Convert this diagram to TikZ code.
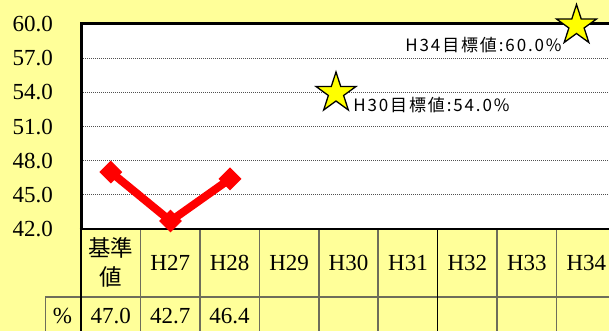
\documentclass[tikz,border=0pt]{standalone}
\usepackage{fontspec}
\setmainfont{Liberation Serif}
\newfontfamily\cjk{Noto Sans CJK JP}
\newfontfamily\cjkw{Noto Sans CJK JP}[LetterSpace=11]
\usetikzlibrary{shapes.geometric}
\definecolor{bgy}{HTML}{FFFF99}
\definecolor{tline}{HTML}{6E6E5A}
\definecolor{gridc}{HTML}{505050}
\definecolor{staryel}{HTML}{FFFF00}
\begin{document}
\begin{tikzpicture}[x=1pt,y=-1pt,
  axl/.style={font=\fontsize{23}{26}\selectfont, inner sep=0pt, anchor=east},
  cell/.style={font=\fontsize{23}{26}\selectfont, inner sep=0pt},
  cjkcell/.style={font=\cjk\fontsize{22.5}{29}\selectfont, inner sep=0pt, align=center},
  goal/.style={font=\cjkw\fontsize{17}{20}\selectfont, inner sep=0pt},
  gridln/.style={gridc, line width=0.8pt, dash pattern=on 1pt off 1pt},
  tab/.style={tline, line width=1.6pt},
  marker/.style={diamond, aspect=1, fill=red, inner sep=0pt, minimum width=23pt, minimum height=23pt},
  goalstar/.style={star, star points=5, star point ratio=2.618, minimum size=42pt, inner sep=0pt, draw=black, line width=1.3pt, fill=staryel}
]
\useasboundingbox (0,0) rectangle (609,331);
\fill[bgy] (0,0) rectangle (609,331);
\fill[white] (81,24) rectangle (609,229);
% grid
\foreach \yy in {58.17,92.33,126.5,160.67,194.83}
  \draw[gridln] (81,\yy) -- (609,\yy);
% y labels
\node[axl] (y60) at (53,24.5) {60.0};
\node[axl] (y57) at (53,58.5) {57.0};
\node[axl] (y54) at (53,92.5) {54.0};
\node[axl] (y51) at (53,126.8) {51.0};
\node[axl] (y48) at (53,161) {48.0};
\node[axl] (y45) at (53,195) {45.0};
\node[axl] (y42) at (53,229.5) {42.0};
% table lines
\draw[tab] (45.3,297) -- (609,297);
\draw[tab] (45.3,297) -- (45.3,331);
\foreach \xx in {140.45,199.9,259.35,318.8,378.25,497.15,556.6}
  \draw[tab] (\xx,229) -- (\xx,331);
\draw[black, line width=1.4pt] (437.7,229) -- (437.7,331);
\draw[black, line width=1.8pt] (81,229) -- (81,331);
% plot frame
\draw[black, line width=3pt] (609,24) -- (81,24) -- (81,229);
\draw[black, line width=2.4pt] (79.5,229) -- (609,229);
% header row
\node[cjkcell] (hk) at (110.7,262) {基準\\値};
\node[cell] (h27) at (170.2,263) {H27};
\node[cell] (h28) at (229.6,263) {H28};
\node[cell] (h29) at (289.1,263) {H29};
\node[cell] (h30) at (348.5,263) {H30};
\node[cell] (h31) at (408,263) {H31};
\node[cell] (h32) at (467.4,263) {H32};
\node[cell] (h33) at (526.9,263) {H33};
\node[cell] (h34) at (586.3,263) {H34};
% data row
\node[cell] (pct) at (62.5,316) {\%};
\node[cell] (v0) at (110.7,316.5) {47.0};
\node[cell] (v1) at (170.2,316.5) {42.7};
\node[cell] (v2) at (229.6,316.5) {46.4};
% data line
\coordinate (c0) at (110.8,172.06);
\coordinate (c1) at (170.5,221.03);
\coordinate (c2) at (230,178.89);
\draw[red, line width=8pt] (c0) -- (c1) -- (c2);
\node[marker] (d0) at (c0) {};
\node[marker] (d1) at (c1) {};
\node[marker] (d2) at (c2) {};
% goals
\node[goalstar] (s30) at (336,93) {};
\node[goalstar] (s34) at (576.5,25.5) {};
\node[goal] (g34) at (483.5,45.5) {H34目標値:60.0\%};
\node[goal] (g30) at (431.4,105) {H30目標値:54.0\%};
\end{tikzpicture}
\end{document}
